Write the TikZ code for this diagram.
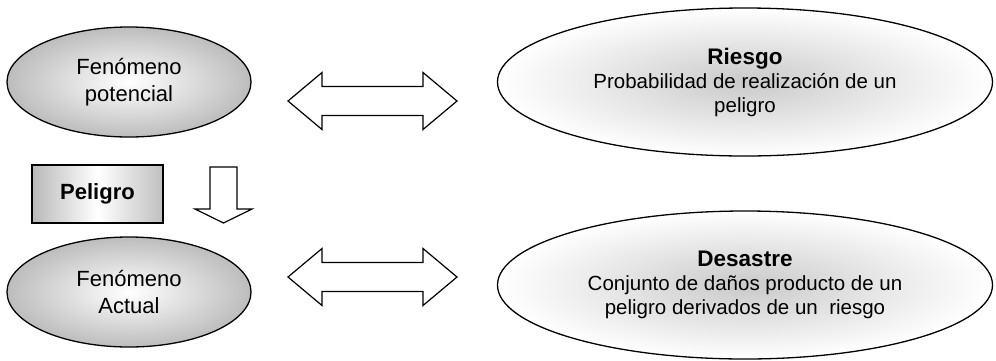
\documentclass[tikz,border=0pt]{standalone}
\usepackage{fontspec}
\setmainfont{Liberation Sans}
\usetikzlibrary{shapes.geometric}

\begin{document}
\begin{tikzpicture}[x=1pt, y=-1pt,
  fenomeno/.style={ellipse, draw, line width=1.3pt, inner color=white, outer color=gray!52,
    minimum width=244, minimum height=110, inner sep=0, align=center, font=\fontsize{22}{27}\selectfont},
  concepto/.style={ellipse, draw, line width=1.3pt, inner color=gray!42, outer color=white,
    minimum width=495, minimum height=148, inner sep=0, align=center, font=\fontsize{20.5}{24}\selectfont},
  etiqueta/.style={draw, line width=1.3pt, left color=gray!55, right color=gray!50, middle color=white,
    minimum width=131, minimum height=58, font=\fontsize{22}{26}\selectfont\bfseries},
  flecha/.style={draw, line width=1.2pt, fill=white, line join=miter}]
\useasboundingbox (0,0) rectangle (996,360);

% ellipses
\node[fenomeno] (potencial) at (129,82) {Fenómeno\\potencial};
\node[fenomeno] (actual) at (129,292) {Fenómeno\\Actual};
\node[concepto] (riesgo) at (745,82)
  {{\fontsize{22.5}{24}\selectfont\bfseries Riesgo}\\Probabilidad de realización de un\\peligro};
\node[concepto] (desastre) at (745,285)
  {{\fontsize{22.5}{24}\selectfont\bfseries Desastre}\\Conjunto de daños producto de un\\peligro derivados de un ~riesgo};

% box
\node[etiqueta] (peligro) at (97.5,194) {Peligro};

% block arrows
\foreach \y in {101,277} {
 \draw[flecha] (288,\y) -- (322,\y-28.5) -- (322,\y-14.5) -- (423,\y-14.5) -- (423,\y-28.5)
   -- (457,\y) -- (423,\y+28.5) -- (423,\y+14.5) -- (322,\y+14.5) -- (322,\y+28.5) -- cycle;
}
\draw[flecha] (210,167) -- (237,167) -- (237,209) -- (252,209) -- (223.5,223)
  -- (195,209) -- (210,209) -- cycle;
\end{tikzpicture}
\end{document}
